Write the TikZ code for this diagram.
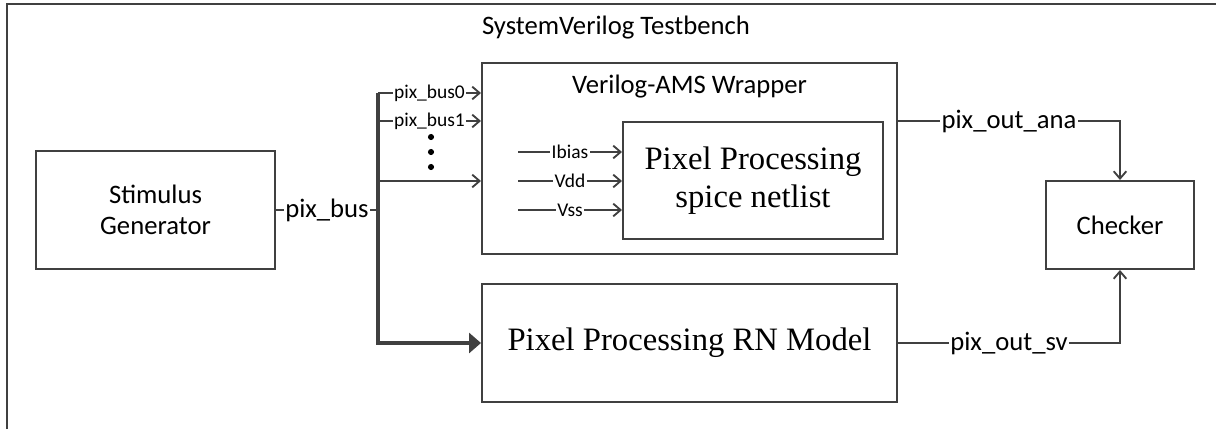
\documentclass[tikz,border=0pt]{standalone}
\usepackage{fontspec}
\setmainfont{Carlito}
\newfontfamily\serifrm{Liberation Serif}
\usetikzlibrary{arrows.meta}
\definecolor{wire}{RGB}{64,64,64}
\begin{document}
\begin{tikzpicture}[x=0.75pt,y=-0.75pt,
  box/.style={draw=wire,line width=1.5pt,inner sep=0pt},
  big/.style={font=\fontsize{20}{23.25}\selectfont},
  small/.style={font=\fontsize{14.6}{16}\selectfont},
  serifbig/.style={font=\serifrm\fontsize{24.5}{28.5}\selectfont},
  wirelbl/.style={fill=white,inner sep=1pt},
  thin/.style={draw=wire,line width=1.4pt},
  bus/.style={draw=wire,line width=2.3pt,line join=miter},
  barb/.style={-{Straight Barb[length=5.5pt,width=9.5pt]}},
  dot/.style={circle,fill=black,inner sep=0pt,minimum size=4.6pt}]
\useasboundingbox (0,0) rectangle (1216,429);
% outer testbench frame (only top and left edges fall inside the picture)
\coordinate (fa) at (7,429);
\coordinate (fb) at (7,4);
\coordinate (fc) at (1216,4);
\draw[draw=wire,line width=1.5pt] (fa) -- (fb) -- (fc);
\node[big,anchor=base] (title) at (616,34) {SystemVerilog Testbench};

% blocks
\node[box,minimum width=179.25pt,minimum height=88.5pt,align=center,big] (stim) at (155.5,210) {Stimulus\\Generator};
\node[box,minimum width=311.25pt,minimum height=143.25pt] (wrap) at (689.5,158.5) {};
\node[big,anchor=base] (wraplbl) at (689.5,93) {Verilog-AMS Wrapper};
\node[box,minimum width=195pt,minimum height=87.75pt,align=center,serifbig] (spice) at (753,180.5) {Pixel Processing\\spice netlist};
\node[box,minimum width=311.25pt,minimum height=88.5pt,serifbig] (rn) at (689.5,343) {Pixel Processing RN Model};
\node[box,minimum width=111pt,minimum height=66pt,big] (chk) at (1120,225) {Checker};

% bus
\coordinate (b0) at (378,93);
\coordinate (b1) at (378,121);
\coordinate (b2) at (378,181);
\coordinate (bj) at (378,210);
\coordinate (bb) at (378,343);
\draw[thin] (stim.east) -- node[wirelbl,big] {pix\_bus} (bj);
\draw[bus,-{Triangle[length=9pt,width=15pt]}] (b0) -- (bb) -- (rn.west);
\draw[thin,barb] (b0) -- node[wirelbl,small] {pix\_bus0} (b0 -| wrap.west);
\draw[thin,barb] (b1) -- node[wirelbl,small] {pix\_bus1} (b1 -| wrap.west);
\draw[thin,barb] (b2) -- (b2 -| wrap.west);
\node[dot] (d1) at (431,137) {};
\node[dot] (d2) at (431,152) {};
\node[dot] (d3) at (431,167) {};

% spice netlist inputs
\coordinate (ib) at (518,152);
\coordinate (vd) at (518,181);
\coordinate (vs) at (518,210);
\draw[thin,barb] (ib) -- node[wirelbl,small] {Ibias} (ib -| spice.west);
\draw[thin,barb] (vd) -- node[wirelbl,small] {Vdd} (vd -| spice.west);
\draw[thin,barb] (vs) -- node[wirelbl,small] {Vss} (vs -| spice.west);

% outputs to checker
\draw[thin,barb] (wrap.east |- spice.north) -- node[wirelbl,big] {pix\_out\_ana} (chk.north |- spice.north) -- (chk.north);
\draw[thin,barb] (rn.east) -- node[wirelbl,big] {pix\_out\_sv} (chk.south |- rn.east) -- (chk.south);
\end{tikzpicture}
\end{document}
